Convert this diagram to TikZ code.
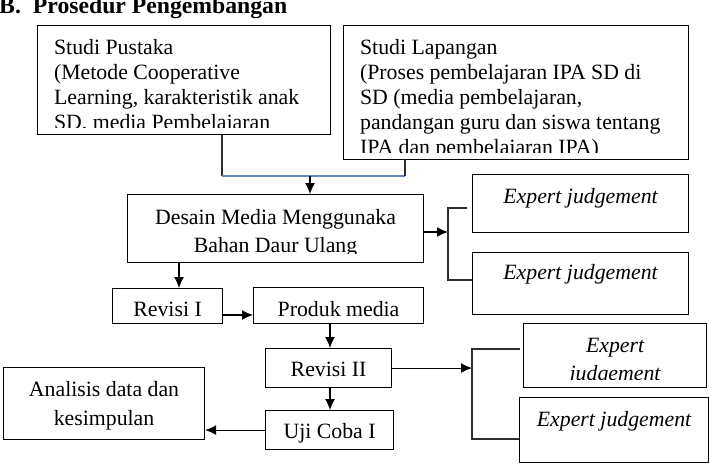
\documentclass[tikz,border=0pt]{standalone}
\usepackage{fontspec}
\setmainfont{Liberation Serif}
\usepackage{xcolor}
\usetikzlibrary{arrows.meta, positioning}

\definecolor{linkblue}{RGB}{96,134,184}
\definecolor{linkgrey}{RGB}{45,45,45}
\newcommand{\txtfont}{\fontsize{21.8}{25}\selectfont}

\tikzstyle{box} = [rectangle, draw, line width=1.1pt, inner sep=0pt, anchor=north west]
\tikzstyle{line} = [draw, line width=1.1pt]
\tikzstyle{arrow} = [line, -{Latex[length=11pt, width=10pt]}]
\tikzstyle{boxtext} = [inner sep=0pt, minimum width=0pt, minimum height=0pt, font=\txtfont]
\tikzset{
  % text of a box, cut off at its inner margin as in the original
  lefttext/.style n args={3}{path picture={
      \clip ([yshift=#1]path picture bounding box.south west) rectangle (path picture bounding box.north east);
      \node[boxtext, anchor=north west, align=left] at ([xshift=16pt, yshift={-#2+15pt}]path picture bounding box.north west) {#3};}},
  midtext/.style n args={3}{path picture={
      \clip ([yshift=#1]path picture bounding box.south west) rectangle (path picture bounding box.north east);
      \node[boxtext, anchor=north, align=center] at ([yshift={-#2+15pt}]path picture bounding box.north) {#3};}}
}

\begin{document}
\begin{tikzpicture}[x=1pt, y=-1pt]
    \useasboundingbox (0,0) rectangle (709,464);

    \node [anchor=base west, inner sep=0pt, font=\bfseries\fontsize{23.7}{28}\selectfont] (title) at (-1,13.5) {B.\hspace{12pt}Prosedur Pengembangan};

    % Studies
    \node [box, minimum width=293pt, minimum height=109pt, lefttext={7pt}{28pt}{Studi Pustaka\\(Metode Cooperative\\Learning, karakteristik anak\\SD, media Pembelajaran}] (pustaka) at (37,25) {};
    \node [box, minimum width=345pt, minimum height=134pt, lefttext={7pt}{28pt}{Studi Lapangan\\(Proses pembelajaran IPA SD di\\SD (media pembelajaran,\\pandangan guru dan siswa tentang\\IPA dan pembelajaran IPA)}] (lapangan) at (343,25) {};

    % Design and first judgement
    \node [box, minimum width=296pt, minimum height=68pt, midtext={9pt}{29pt}{Desain Media Menggunaka\\[3pt]Bahan Daur Ulang}] (desain) at (127,194) {};
    \node [box, minimum width=216pt, minimum height=58pt, midtext={3pt}{28pt}{\itshape Expert judgement}] (expert1) at (472,174) {};
    \node [box, minimum width=216pt, minimum height=62pt, midtext={3pt}{26pt}{\itshape Expert judgement}] (expert2) at (472,252) {};

    % Revisions and trial
    \node [box, minimum width=110pt, minimum height=35pt, midtext={7.5pt}{28pt}{Revisi I}] (revisi1) at (112,288) {};
    \node [box, minimum width=170pt, minimum height=36pt, midtext={3pt}{28pt}{Produk media}] (produk) at (253,287) {};
    \node [box, minimum width=126pt, minimum height=39pt, midtext={3pt}{28pt}{Revisi II}] (revisi2) at (265,348) {};
    \node [box, minimum width=128pt, minimum height=39pt, midtext={3pt}{27pt}{Uji Coba I}] (uji) at (265,410) {};
    \node [box, minimum width=201pt, minimum height=72pt, midtext={3pt}{28pt}{Analisis data dan\\[4pt]kesimpulan}] (analisis) at (3,367) {};

    % Second judgement
    \node [box, minimum width=183pt, minimum height=64pt, midtext={8pt}{29pt}{\itshape Expert\\[3pt]\itshape judgement}] (expert3) at (523,323) {};
    \node [box, minimum width=189pt, minimum height=65pt, midtext={3pt}{28pt}{\itshape Expert judgement}] (expert4) at (519,397) {};

    % Connector points
    \coordinate (studyL) at (222,176);
    \coordinate (studyR) at (405,176);
    \coordinate (studyM) at (310,176);
    \coordinate (fork1) at (448,232);
    \coordinate (fork1top) at (448,208);
    \coordinate (fork1end) at (467,208);
    \coordinate (fork1bot) at (448,280);
    \coordinate (downA) at (179,0);
    \coordinate (sideA) at (0,315);
    \coordinate (downB) at (330,0);
    \coordinate (fork2) at (472,368);
    \coordinate (fork2top) at (472,349);
    \coordinate (fork2end) at (520,349);
    \coordinate (fork2bot) at (472,439);

    % Edges
    \draw [line, linkgrey] (pustaka.south -| studyL) -- (studyL);
    \draw [line, linkblue] (studyL) -- (studyR);
    \draw [line, linkgrey] (studyR) -- (lapangan.south -| studyR);
    \draw [arrow] (studyM) -- (desain.north -| studyM);

    \draw [arrow] (desain.east |- fork1) -- (fork1);
    \draw [line, linkgrey] (fork1end) -- (fork1top) -- (fork1bot) -- (expert2.west |- fork1bot);

    \draw [arrow] (desain.south -| downA) -- (revisi1.north -| downA);
    \draw [arrow] (revisi1.east |- sideA) -- (produk.west |- sideA);
    \draw [arrow] (produk.south -| downB) -- (revisi2.north -| downB);
    \draw [arrow] (revisi2.south -| downB) -- (uji.north -| downB);
    \draw [arrow] (uji.west) -- (analisis.east |- uji.west);

    \draw [arrow] (revisi2.east) -- (revisi2.east -| fork2);
    \draw [line, linkgrey] (fork2end) -- (fork2top) -- (fork2bot) -- (expert4.west |- fork2bot);
\end{tikzpicture}
\end{document}
